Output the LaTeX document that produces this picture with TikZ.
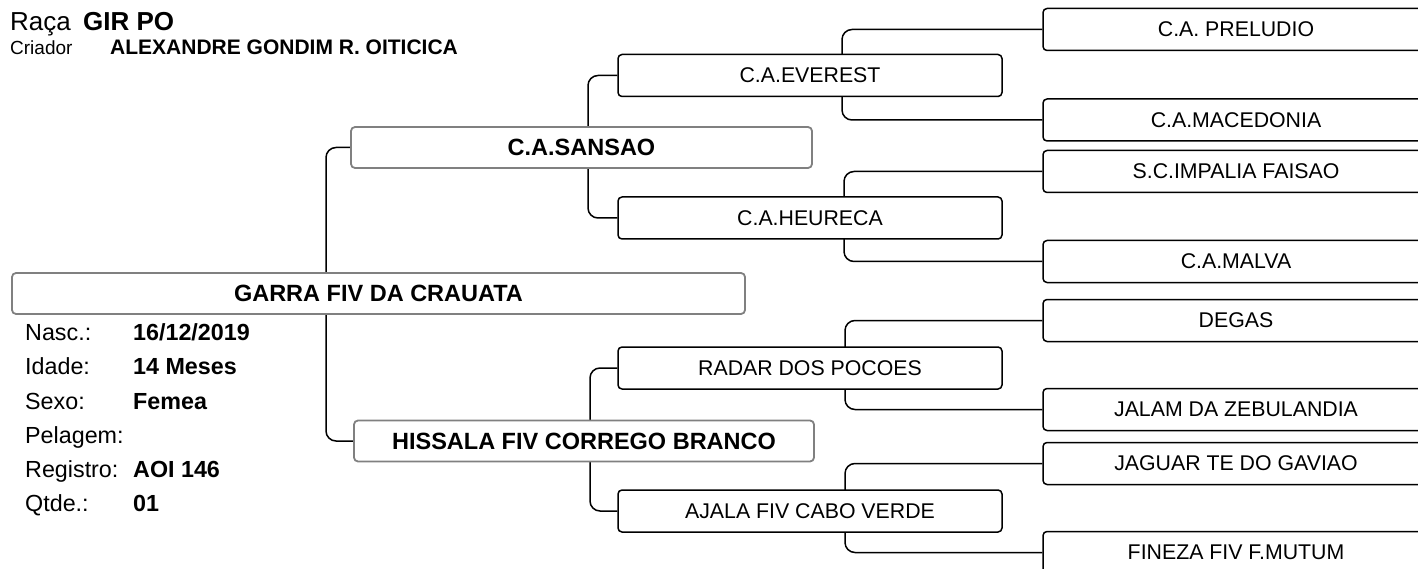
\documentclass[tikz,border=0pt]{standalone}
\usepackage{fontspec}
\setmainfont{Liberation Sans}
\usetikzlibrary{positioning, backgrounds}

\begin{document}
\begin{tikzpicture}[x=1pt, y=-1pt,
    first/.style={draw=gray, line width=1.8pt, fill=white, rounded corners=4pt,
        minimum height=41pt, inner sep=0pt, font=\fontsize{23.5}{28}\selectfont\bfseries},
    second/.style={draw=black, line width=1.5pt, fill=white, rounded corners=4pt,
        minimum height=42pt, minimum width=384pt, inner sep=0pt, font=\fontsize{21.3}{26}\selectfont},
    third/.style={second, minimum width=386pt},
    link/.style={line width=1.5pt, rounded corners=10pt},
    info/.style={anchor=base west, inner sep=0pt, font=\fontsize{23.3}{28}\selectfont}]
        \useasboundingbox (0,0) rectangle (1418,569);
        \clip (0,0) rectangle (1418,569);

        % Header
        \node[info, font=\fontsize{26}{30}\selectfont] (raca) at (10,31) {Raça};
        \node[info, font=\fontsize{26}{30}\selectfont\bfseries] (racaval) at (83,31) {GIR PO};
        \node[info, font=\fontsize{19}{23}\selectfont] (criador) at (10,55) {Criador};
        \node[info, font=\fontsize{21}{25}\selectfont\bfseries] (criadorval) at (110,55) {ALEXANDRE GONDIM R. OITICICA};

        % Animal and parents
        \node[first, minimum width=733pt] (animal) at (378.5,293.5) {GARRA FIV DA CRAUATA};
        \node[first, minimum width=461pt] (pai) at (581.5,147.5) {C.A.SANSAO};
        \node[first, minimum width=460pt] (mae) at (584,441) {HISSALA FIV CORREGO BRANCO};

        % Grandparents
        \node[second] (pp) at (810,75.5) {C.A.EVEREST};
        \node[second] (pm) at (810,218) {C.A.HEURECA};
        \node[second] (mp) at (810,368) {RADAR DOS POCOES};
        \node[second] (mm) at (810,511) {AJALA FIV CABO VERDE};

        % Great-grandparents
        \foreach \n/\y/\txt in {ppp/29.5/C.A. PRELUDIO, ppm/120/C.A.MACEDONIA,
                pmp/171.5/S.C.IMPALIA FAISAO, pmm/261.5/C.A.MALVA,
                mpp/320.5/DEGAS, mpm/409.5/JALAM DA ZEBULANDIA,
                mmp/463.5/JAGUAR TE DO GAVIAO, mmm/552.5/FINEZA FIV F.MUTUM}
            \node[third] (\n) at (1236,\y) {\txt};

        % Animal data
        \foreach \lab/\val [count=\i] in {Nasc.:/{16/12/2019}, Idade:/14 Meses, Sexo:/Femea,
                Pelagem:/{}, Registro:/AOI 146, Qtde.:/01} {
            \node[info] (lab\i) at (25,306.5+34.2*\i) {\lab};
            \node[info, font=\fontsize{23.3}{28}\selectfont\bfseries] (val\i) at (133,306.5+34.2*\i) {\val};
        }

        % Links
        \begin{scope}[on background layer]
            \foreach \a/\b/\x in {pai/mae/326, pp/pm/588, mp/mm/590, ppp/ppm/842,
                    pmp/pmm/844, mpp/mpm/845, mmp/mmm/845} {
                \coordinate (v) at (\x,0);
                \draw[link] (\a.west) -| (v |- \b.west) -- (\b.west);
            }
        \end{scope}
    \end{tikzpicture}
\end{document}
